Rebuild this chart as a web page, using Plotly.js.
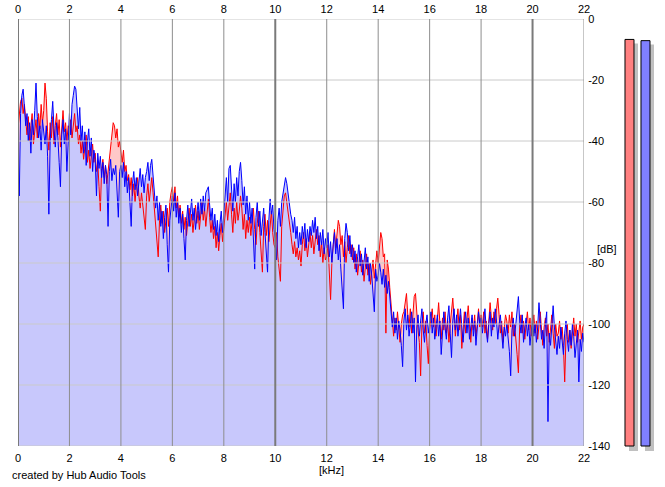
<!DOCTYPE html>
<html><head><meta charset="utf-8">
<script src="https://cdn.plot.ly/plotly-3.0.1.min.js"></script>
<style>html,body{margin:0;padding:0;background:#fff}#chart{width:665px;height:487px}</style>
</head><body><div id="chart"></div>
<script>
// ---- data (dB per frequency bin; bins start at 0 kHz, 0.05 kHz apart) ----
const freqStartKHz = 0;
const freqStepKHz = 0.05;

const leftChannelDb = [
-36,-31,-27,-26,-31,-28,-34,-38,-32,-40,-35,-31,-41,-36,-33,-39,-31,-36,-28,-34,
-30,-21,-26,-37,-43,-34,-39,-32,-41,-35,-31,-38,-33,-42,-36,-30,-37,-34,-40,-35,
-36,-33,-39,-34,-31,-37,-35,-41,-38,-44,-40,-46,-42,-38,-47,-43,-49,-44,-41,-47,
-44,-50,-47,-55,-63,-49,-46,-52,-48,-54,-50,-45,-41,-38,-34,-35,-39,-36,-42,-40,
-44,-47,-43,-50,-48,-53,-51,-56,-52,-58,-54,-60,-55,-52,-58,-62,-57,-61,-65,-69,
-58,-54,-60,-56,-52,-57,-63,-68,-72,-78,-66,-61,-67,-63,-70,-65,-62,-68,-60,-57,
-55,-60,-55,-62,-58,-65,-61,-67,-63,-69,-65,-71,-66,-62,-68,-64,-70,-66,-61,-67,
-63,-69,-64,-60,-66,-62,-68,-63,-59,-65,-70,-66,-72,-68,-75,-70,-76,-71,-67,-73,
-68,-63,-60,-66,-61,-57,-64,-70,-62,-67,-60,-66,-63,-58,-62,-69,-64,-72,-66,-70,
-65,-71,-66,-62,-69,-74,-67,-63,-70,-76,-83,-68,-64,-71,-66,-73,-67,-63,-70,-74,
-75,-70,-78,-82,-86,-68,-62,-58,-57,-60,-63,-66,-70,-74,-77,-73,-78,-75,-79,-76,
-81,-74,-70,-76,-72,-78,-73,-70,-75,-71,-77,-73,-69,-74,-71,-78,-73,-80,-75,-79,
-78,-74,-84,-92,-80,-73,-69,-75,-70,-66,-68,-74,-71,-78,-73,-80,-75,-71,-77,-74,
-79,-75,-82,-77,-84,-80,-76,-83,-79,-86,-81,-77,-84,-80,-87,-83,-79,-85,-81,-76,
-80,-74,-70,-72,-78,-77,-103,-79,-82,-88,-94,-99,-104,-98,-102,-96,-101,-106,-100,-97,
-96,-93,-90,-97,-101,-95,-103,-97,-91,-90,-98,-102,-106,-117,-100,-96,-103,-99,-107,-113,
-102,-98,-95,-101,-97,-104,-99,-93,-100,-105,-98,-102,-96,-103,-99,-106,-100,-95,-91.5,-98,
-104,-99,-95,-102,-97,-108,-101,-96,-103,-99,-94,-100,-106,-98,-102,-97,-104,-100,-95,-101,
-97,-101,-96,-103,-99,-105,-100,-93,-98,-102,-96,-100,-95,-91.5,-97,-103,-99,-106,-101,-97,
-99,-103,-97,-101,-96,-104,-100,-107,-110,-116,-101,-97,-103,-99,-105,-100,-96,-102,-98,-104,
-101,-97,-103,-99,-105,-100,-96,-102,-107,-101,-98,-104,-100,-106,-102,-97,-103,-108,-100,-104,
-103,-99,-105,-101,-107,-119,-104,-100,-106,-102,-108,-103,-98,-104,-100,-106,-102,-99,-105,-101,
-100
];

const rightChannelDb = [
-42,-58,-31,-25,-23,-29,-35,-31,-40,-34,-44,-33,-38,-30,-21,-32,-39,-35,-43,-33,
-37,-41,-35,-45,-64,-40,-33,-27,-36,-42,-34,-39,-47,-55,-38,-33,-41,-36,-50,-37,
-31,-38,-28,-25,-22,-23,-30,-36,-29,-40,-35,-44,-37,-48,-40,-36,-45,-39,-50,-43,
-46,-58,-44,-49,-45,-52,-47,-54,-48,-51,-68,-50,-46,-53,-49,-51,-48,-55,-65,-50,
-48,-52,-47,-55,-50,-57,-52,-60,-68,-54,-50,-56,-52,-58,-53,-49,-55,-51,-57,-52,
-50,-47,-53,-48,-46,-52,-57,-62,-58,-66,-60,-68,-63,-72,-65,-61,-74,-83,-66,-62,
-58,-63,-57,-65,-60,-67,-62,-70,-64,-72,-79,-66,-61,-68,-63,-59,-66,-62,-69,-64,
-60,-66,-59,-64,-58,-63,-57,-56,-55,-61,-66,-62,-69,-64,-71,-66,-73,-67,-63,-70,
-64,-58,-52,-60,-49,-48,-56,-63,-54,-60,-52,-58,-50,-47,-53,-61,-55,-64,-58,-66,
-60,-67,-62,-72,-82,-65,-60,-68,-63,-71,-66,-62,-70,-76,-83,-66,-59,-64,-61,-69,
-72,-79,-66,-62,-68,-60,-57,-55,-52,-54,-58,-61,-64,-66,-70,-65,-72,-68,-75,-70,
-74,-68,-72,-67,-75,-69,-73,-68,-71,-66,-70,-65,-72,-68,-76,-70,-74,-69,-77,-72,
-75,-70,-78,-73,-80,-74,-70,-77,-72,-79,-74,-82,-90,-95,-72,-67,-70,-76,-71,-78,
-74,-80,-76,-83,-78,-74,-81,-77,-84,-79,-75,-82,-78,-86,-80,-84,-91,-96,-82,-86,
-84,-80,-83,-87,-82,-88,-84,-90,-86,-92,-97,-101,-96,-103,-98,-105,-99,-102,-107,-114,
-99,-95,-102,-97,-104,-100,-96,-103,-98,-119,-101,-97,-104,-99,-95,-102,-106,-100,-97,-103,
-100,-96,-103,-98,-105,-101,-97,-104,-99,-110,-102,-96,-101,-105,-98,-94,-103,-111,-99,-95,
-102,-97,-104,-99,-95,-101,-106,-100,-96,-103,-98,-105,-101,-97,-104,-99,-107,-102,-96,-100,
-98,-103,-99,-95,-102,-106,-100,-96,-104,-98,-101,-95,-99,-105,-100,-97,-103,-108,-101,-104,
-100,-105,-109,-117,-102,-98,-104,-100,-96,-91,-99,-103,-97,-106,-101,-98,-104,-100,-107,-102,
-98,-104,-100,-106,-101,-93,-99,-105,-102,-108,-100,-96,-132,-103,-107,-99,-94,-101,-106,-110,
-104,-108,-101,-106,-110,-103,-99,-105,-109,-102,-107,-100,-104,-111,-106,-102,-119,-105,-109,-103,
-106
];

const meterChannels = ['L', 'R'];
const meterLevelsDb = [-6.7, -7.1];

const xTickValues = [0, 2, 4, 6, 8, 10, 12, 14, 16, 18, 20, 22];
const xTickLabels = ['0', '2', '4', '6', '8', '10', '12', '14', '16', '18', '20', '22'];
const yTickValues = [0, -20, -40, -60, -80, -100, -120, -140];
const yTickLabels = ['0', '-20', '-40', '-60', '-80', '-100', '-120', '-140'];
const majorXTicks = [0, 10, 20];

// ---- figure ----
const FONT = 'Liberation Sans, Arial, sans-serif';
const dbMin = -140, dbMax = 0, fMax = 22;
const floorLine = leftChannelDb.map(() => dbMin);

const spectrumBase = {type: 'scatter', mode: 'lines', x0: freqStartKHz, dx: freqStepKHz, hoverinfo: 'skip'};

const traces = [
  Object.assign({}, spectrumBase, {y: floorLine, line: {width: 0}}),
  Object.assign({}, spectrumBase, {y: leftChannelDb, line: {width: 0}, fill: 'tonexty', fillcolor: '#ffc8c8'}),
  Object.assign({}, spectrumBase, {y: floorLine, line: {width: 0}}),
  Object.assign({}, spectrumBase, {y: rightChannelDb, line: {width: 0}, fill: 'tonexty', fillcolor: '#c8c8fc'}),
  Object.assign({}, spectrumBase, {y: leftChannelDb, line: {color: '#ff0000', width: 1}}),
  Object.assign({}, spectrumBase, {y: rightChannelDb, line: {color: '#0000ff', width: 1}, xaxis: 'x3'})
];

// level meters (x2/y2)
const meterBottom = -141.64;
traces.push({
  type: 'bar', x: meterChannels, xaxis: 'x2', yaxis: 'y2',
  base: meterBottom, y: meterLevelsDb.map(v => (v - 1.3) - meterBottom),
  width: 0.5625, offset: -0.03125,
  marker: {color: '#c0c0c0', line: {width: 0}}, hoverinfo: 'skip'
});
traces.push({
  type: 'bar', x: meterChannels, xaxis: 'x2', yaxis: 'y2',
  base: dbMin, y: meterLevelsDb.map(v => v - dbMin),
  width: 0.5625,
  marker: {color: ['#ff8080', '#8080ff'], line: {width: 1, color: '#000'}}, hoverinfo: 'skip'
});

const shapes = [];
yTickValues.forEach(v => shapes.push({
  type: 'line', xref: 'x', yref: 'y', x0: 0, x1: fMax, y0: v, y1: v,
  line: {color: '#cacaca', width: 1}, layer: 'above'
}));
xTickValues.forEach(v => shapes.push({
  type: 'line', xref: 'x', yref: 'y', x0: v, x1: v, y0: dbMin, y1: dbMax,
  line: {color: majorXTicks.includes(v) ? '#7a7a7a' : '#8e8e8e', width: majorXTicks.includes(v) ? 2 : 1}, layer: 'above'
}));

const tickFont = {family: FONT, size: 11, color: '#000'};
const layout = {
  width: 665, height: 487,
  margin: {l: 18, r: 10, t: 19, b: 36, pad: 0},
  paper_bgcolor: '#fff', plot_bgcolor: '#fff',
  showlegend: false, hovermode: false, barmode: 'overlay',
  xaxis: {
    domain: [0, 0.88854], range: [0, fMax], anchor: 'y',
    tickmode: 'array', tickvals: xTickValues, ticktext: xTickLabels,
    showgrid: false, zeroline: false, showline: false,
    ticks: 'outside', ticklen: 2, tickcolor: 'rgba(0,0,0,0)', tickfont: tickFont, fixedrange: true
  },
  xaxis3: {
    overlaying: 'x', side: 'top', anchor: 'y', range: [0, fMax],
    tickmode: 'array', tickvals: xTickValues, ticktext: xTickLabels,
    showgrid: false, zeroline: false, showline: false,
    ticks: 'outside', ticklen: 1, tickcolor: 'rgba(0,0,0,0)', tickfont: tickFont, fixedrange: true
  },
  yaxis: {
    domain: [0.011574, 1], range: [dbMin, dbMax], anchor: 'x', side: 'right',
    tickmode: 'array', tickvals: yTickValues, ticktext: yTickLabels,
    showgrid: false, zeroline: false, showline: false,
    ticks: 'outside', ticklen: 1, tickcolor: 'rgba(0,0,0,0)', tickfont: tickFont, fixedrange: true
  },
  xaxis2: {domain: [0.94505, 1], anchor: 'y2', type: 'category', range: [-0.59375, 1.59375], visible: false, fixedrange: true},
  yaxis2: {domain: [0, 1], anchor: 'x2', range: [meterBottom, dbMax], visible: false, fixedrange: true},
  shapes: shapes,
  annotations: [
    {text: '[kHz]', xref: 'paper', yref: 'paper', x: 0.4914, y: 0, yshift: -19, xanchor: 'center', yanchor: 'middle', showarrow: false, font: tickFont},
    {text: '[dB]', xref: 'paper', yref: 'paper', x: 0.9246, y: 0.4676, xanchor: 'center', yanchor: 'middle', showarrow: false, font: tickFont},
    {text: 'created by Hub Audio Tools', xref: 'paper', yref: 'paper', x: 0, xshift: -8, y: 0, yshift: -24, xanchor: 'left', yanchor: 'middle', showarrow: false, font: tickFont}
  ]
};

Plotly.newPlot('chart', traces, layout, {staticPlot: true, displayModeBar: false});
</script>
</body></html>
